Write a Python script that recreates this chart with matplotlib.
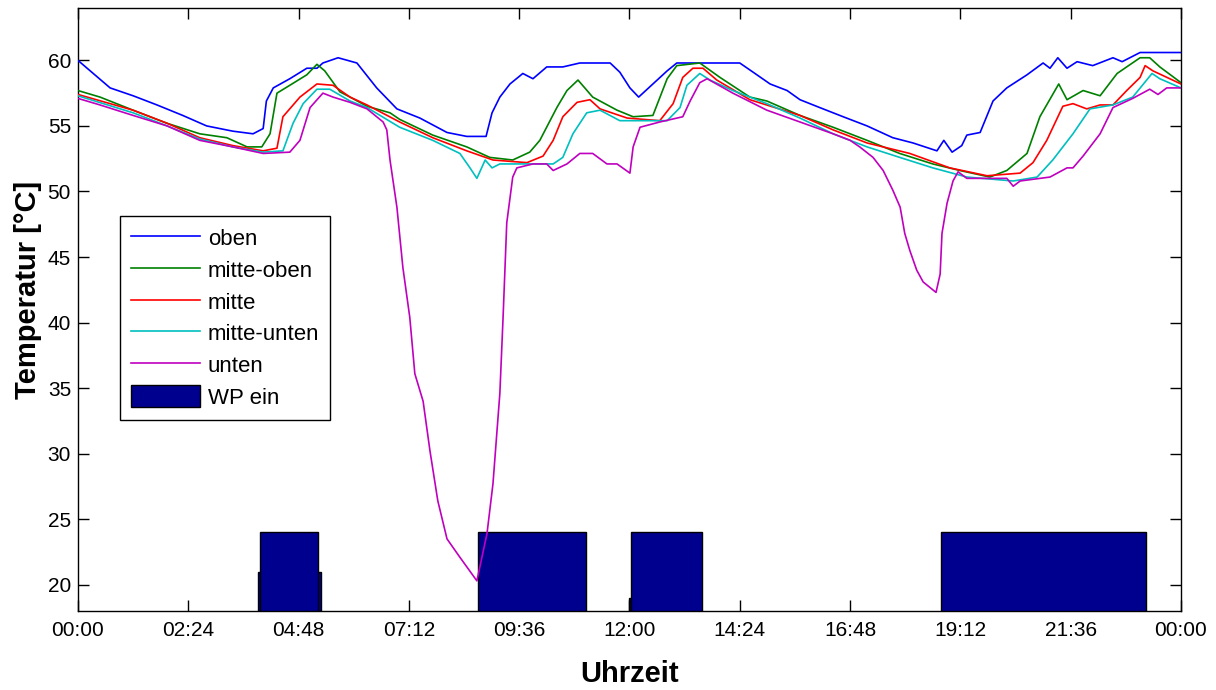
import numpy as np
import matplotlib
matplotlib.use("Agg")
import matplotlib.pyplot as plt

plt.rcParams['font.family'] = ['Liberation Sans', 'DejaVu Sans']

# Speichertemperaturen, Zeit in Stunden
t_oben = [0, 0.7, 1.2, 1.72, 2.28, 2.8, 3.37, 3.81, 4.03, 4.1, 4.25, 4.61, 4.98, 5.2, 5.33, 5.66,
          6.07, 6.5, 6.94, 7.44, 8.03, 8.46, 8.88, 9.01, 9.18, 9.4, 9.68, 9.9, 10.2, 10.55, 10.92,
          11.58, 11.79, 12.01, 12.2, 12.51, 12.82, 13.03, 14.4, 14.69, 15.06, 15.43, 15.71, 16.14,
          16.65, 17.17, 17.73, 18.17, 18.69, 18.84, 19.02, 19.23, 19.34, 19.63, 19.91, 20.21, 20.65,
          21.0, 21.15, 21.32, 21.52, 21.74, 22.08, 22.52, 22.72, 23.11, 24.0]
oben = [60.0, 57.9, 57.3, 56.6, 55.8, 55.0, 54.6, 54.4, 54.8, 56.9, 57.9, 58.6, 59.4, 59.4, 59.8, 60.2,
        59.8, 57.9, 56.3, 55.6, 54.5, 54.2, 54.2, 56.0, 57.2, 58.2, 59.0, 58.6, 59.5, 59.5, 59.8,
        59.8, 59.1, 57.9, 57.2, 58.2, 59.2, 59.8, 59.8, 59.1, 58.2, 57.7, 57.0, 56.4,
        55.7, 55.0, 54.1, 53.7, 53.1, 53.9, 53.0, 53.5, 54.3, 54.5, 56.9, 57.9, 58.9,
        59.8, 59.4, 60.2, 59.4, 59.9, 59.6, 60.2, 59.9, 60.6, 60.6]

t_mitte_oben = [0, 0.48, 1.2, 1.94, 2.65, 3.24, 3.68, 4.0, 4.18, 4.33, 4.61, 4.98, 5.2, 5.37, 5.7,
                5.92, 6.29, 6.79, 7.0, 7.72, 8.46, 8.96, 9.46, 9.83, 10.05, 10.42, 10.64, 10.88, 11.2,
                11.73, 12.08, 12.51, 12.82, 13.03, 13.53, 13.97, 14.62, 14.99, 15.71, 16.43, 17.17,
                17.88, 18.6, 19.19, 19.84, 20.21, 20.65, 20.93, 21.34, 21.52, 21.87, 22.24, 22.61,
                23.11, 23.32, 23.54, 24.0]
mitte_oben = [57.7, 57.2, 56.2, 55.2, 54.4, 54.1, 53.4, 53.4, 54.4, 57.5, 58.1, 58.9, 59.7, 59.2, 57.6,
              57.2, 56.5, 56.0, 55.5, 54.3, 53.4, 52.6, 52.4, 53.0, 53.9, 56.4, 57.7, 58.5, 57.2,
              56.2, 55.7, 55.8, 58.6, 59.6, 59.8, 58.7, 57.2, 56.9, 55.8, 54.9, 53.9,
              52.9, 52.1, 51.6, 51.1, 51.6, 52.9, 55.7, 58.2, 57.0, 57.7, 57.3, 59.0,
              60.2, 60.2, 59.5, 58.3]

t_mitte = [0, 1.2, 1.94, 2.65, 3.37, 4.03, 4.33, 4.46, 4.83, 5.2, 5.55, 5.92, 6.29, 7.0, 7.72, 8.46,
           9.03, 9.77, 10.12, 10.34, 10.55, 10.86, 11.14, 11.36, 11.95, 12.66, 12.95, 13.16, 13.38,
           13.6, 13.9, 14.62, 15.71, 16.43, 17.17, 18.1, 18.97, 19.78, 20.5, 20.78, 21.08, 21.43,
           21.65, 21.95, 22.24, 22.52, 22.82, 23.11, 23.22, 23.39, 24.0]
mitte = [57.4, 56.2, 55.2, 54.1, 53.5, 53.1, 53.3, 55.7, 57.2, 58.2, 58.1, 57.2, 56.6, 55.3, 54.1, 53.1,
         52.4, 52.2, 52.7, 53.9, 55.7, 56.8, 57.0, 56.3, 55.6, 55.4, 56.7, 58.7, 59.4,
         59.4, 58.5, 57.0, 55.8, 54.7, 53.7, 52.9, 51.8, 51.2, 51.4, 52.2, 53.9, 56.5,
         56.7, 56.3, 56.6, 56.6, 57.7, 58.7, 59.6, 59.2, 58.2]

t_mitte_unten = [0, 1.2, 1.94, 2.65, 3.37, 4.03, 4.46, 4.68, 4.9, 5.2, 5.48, 5.92, 6.29, 7.0, 7.72,
                 8.31, 8.53, 8.68, 8.86, 9.01, 9.18, 10.34, 10.55, 10.77, 11.07, 11.36, 11.79, 12.82,
                 13.1, 13.25, 13.53, 13.75, 14.25, 14.99, 15.71, 16.43, 17.17, 17.88, 18.6, 19.34,
                 20.35, 20.87, 21.21, 21.65, 22.02, 22.52, 22.95, 23.37, 23.54, 24.0]
mitte_unten = [57.3, 56.0, 55.0, 54.0, 53.4, 53.0, 53.1, 55.2, 56.7, 57.8, 57.8, 56.9, 56.4, 54.9, 53.9,
               52.9, 51.8, 51.0, 52.4, 51.8, 52.1, 52.1, 52.6, 54.4, 56.0, 56.2, 55.4, 55.4,
               56.4, 58.1, 59.0, 58.5, 57.7, 56.7, 55.6, 54.4, 53.4, 52.6, 51.8, 51.1,
               50.8, 51.1, 52.4, 54.4, 56.3, 56.6, 57.2, 59.0, 58.6, 57.9]

t_unten = [0, 0.48, 1.2, 1.94, 2.65, 3.37, 4.03, 4.61, 4.83, 5.05, 5.33, 5.55, 5.92, 6.29, 6.64, 6.72,
           6.79, 6.94, 7.07, 7.22, 7.33, 7.51, 7.66, 7.83, 8.03, 8.31, 8.68, 8.9, 9.03, 9.18, 9.25,
           9.33, 9.46, 9.55, 9.9, 10.2, 10.34, 10.64, 10.92, 11.2, 11.51, 11.73, 12.01, 12.08, 12.23,
           12.66, 13.16, 13.32, 13.53, 13.69, 14.25, 14.99, 15.71, 16.43, 16.8, 17.01, 17.3, 17.52,
           17.73, 17.89, 17.99, 18.1, 18.25, 18.39, 18.67, 18.76, 18.8, 18.91, 19.04, 19.15, 19.34,
           20.21, 20.35, 20.5, 21.15, 21.52, 21.65, 21.87, 22.24, 22.52, 22.95, 23.32, 23.5, 23.69, 24.0]
unten = [57.1, 56.6, 55.8, 55.0, 53.9, 53.4, 52.9, 53.0, 53.9, 56.4, 57.5, 57.2, 56.8, 56.3, 55.3, 54.7,
         52.4, 48.8, 44.2, 40.4, 36.1, 34.0, 30.2, 26.4, 23.5, 22.1, 20.3, 23.9, 27.7, 34.6, 40.4,
         47.6, 51.1, 51.8, 52.1, 52.1, 51.6, 52.1, 52.9, 52.9, 52.1, 52.1, 51.4, 53.4, 54.9,
         55.3, 55.7, 56.9, 58.3, 58.6, 57.5, 56.2, 55.3, 54.4, 53.9, 53.4, 52.6, 51.6,
         50.1, 48.8, 46.8, 45.5, 44.0, 43.1, 42.3, 43.7, 46.8, 49.1, 50.8, 51.5, 51.0,
         51.0, 50.4, 50.8, 51.1, 51.8, 51.8, 52.7, 54.4, 56.4, 57.1, 57.8, 57.4, 57.9, 57.9]

# Waermepumpe ein (Start, Ende in h)
wp_start = [3.96, 8.70, 12.03, 18.78]
wp_end = [5.22, 11.05, 13.58, 23.24]
wp_level = 24
# kleine Balken dahinter
wp2_start = [3.92, 11.99]
wp2_end = [5.29, 12.03]
wp2_level = [21, 19]

xtick_labels = ['00:00', '02:24', '04:48', '07:12', '09:36', '12:00',
                '14:24', '16:48', '19:12', '21:36', '00:00']

fig = plt.figure(figsize=(12.16, 6.9), dpi=100)
ax = fig.add_axes([0.0641, 0.1145, 0.9071, 0.874])

navy = '#00008F'
ax.bar(wp2_start, wp2_level, width=np.array(wp2_end) - np.array(wp2_start), align='edge',
       color=navy, edgecolor='black', linewidth=1, zorder=1)
bars = ax.bar(wp_start, [wp_level] * len(wp_start), width=np.array(wp_end) - np.array(wp_start),
              align='edge', color=navy, edgecolor='black', linewidth=1, zorder=2, label='WP ein')

lw = 1.2
l1, = ax.plot(t_oben, oben, color='#0000FF', lw=lw, label='oben', zorder=3)
l2, = ax.plot(t_mitte_oben, mitte_oben, color='#008000', lw=lw, label='mitte-oben', zorder=3)
l3, = ax.plot(t_mitte, mitte, color='#FF0000', lw=lw, label='mitte', zorder=3)
l4, = ax.plot(t_mitte_unten, mitte_unten, color='#00BFBF', lw=lw, label='mitte-unten', zorder=3)
l5, = ax.plot(t_unten, unten, color='#BF00BF', lw=lw, label='unten', zorder=3)

ax.set_xlim(0, 24)
ax.set_ylim(18, 64)
ax.set_xticks(np.arange(0, 24.01, 2.4))
ax.set_xticklabels(xtick_labels)
ax.set_yticks(np.arange(20, 61, 5))
ax.tick_params(direction='in', length=8, width=1, top=True, right=True,
               labelsize=15, pad=7)
ax.tick_params(axis='y', pad=5)
for s in ax.spines.values():
    s.set_linewidth(1.0)

ax.set_xlabel('Uhrzeit', fontsize=21, fontweight='bold')
ax.set_ylabel('Temperatur [°C]', fontsize=21, fontweight='bold')
ax.xaxis.set_label_coords(0.5, -0.081)
ax.yaxis.set_label_coords(-0.033, 0.533)

leg = ax.legend([l1, l2, l3, l4, l5, bars], ['oben', 'mitte-oben', 'mitte', 'mitte-unten', 'unten', 'WP ein'],
                loc='upper left', bbox_to_anchor=(0.038, 0.655), borderaxespad=0,
                fontsize=16, frameon=True, fancybox=False, framealpha=1, edgecolor='black',
                handlelength=3.1, handleheight=1.1, handletextpad=0.35, labelspacing=0.38,
                borderpad=0.5)
leg.get_frame().set_linewidth(1.0)

fig.savefig('out.png', dpi=100)
